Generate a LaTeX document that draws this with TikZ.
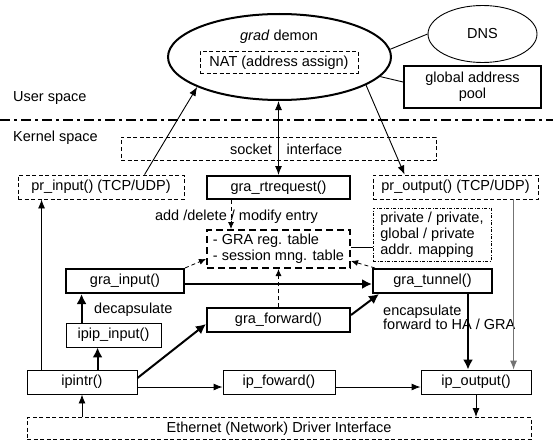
\documentclass[tikz,border=0pt]{standalone}
\usepackage{fontspec}
\setmainfont{Liberation Sans}
\usetikzlibrary{arrows.meta,shapes.geometric}
\tikzset{
  box/.style={draw, line width=0.9pt, inner sep=0pt, minimum height=24pt},
  thickbox/.style={box, line width=2pt},
  dashbox/.style={box, dash pattern=on 4pt off 2.5pt},
  tablebox/.style={box, line width=2pt, dash pattern=on 7pt off 4pt},
  dotbox/.style={box, dash pattern=on 3pt off 1.5pt on 1pt off 1.5pt},
  lbl/.style={inner sep=0pt},
  thin arrow/.style={line width=0.9pt, -{Latex[length=9pt,width=7pt]}},
  both arrow/.style={line width=0.9pt, {Latex[length=9pt,width=7pt]}-{Latex[length=9pt,width=7pt]}},
  thick arrow/.style={line width=2pt, -{Latex[length=10pt,width=10pt]}},
  dash arrow/.style={line width=0.8pt, dash pattern=on 4pt off 3pt, -{Latex[length=7pt,width=6pt]}},
}
\begin{document}
\begin{tikzpicture}[x=1pt, y=-1pt, font=\fontsize{14.5}{16}\selectfont]
\useasboundingbox (0,0) rectangle (553,441);
% user space
\node[ellipse, draw, line width=2pt, inner sep=0pt, minimum width=223pt, minimum height=86pt] (demon) at (279.5,57) {};
\node[lbl] (gradtxt) at (279,37) {\textit{grad} demon};
\node[dashbox, minimum width=158pt, minimum height=22pt] (nat) at (279,62.5) {NAT (address assign)};
\node[ellipse, draw, line width=0.9pt, inner sep=0pt, minimum width=109pt, minimum height=57pt] (dns) at (482.5,34) {DNS};
\node[thickbox, minimum width=137pt, minimum height=42pt, align=center] (glob) at (472.5,87) {global address\\pool};
\draw[line width=0.9pt] (demon.4) -- (dns.west);
\draw[line width=0.9pt] (demon.-11.5) -- ([yshift=5pt]glob.west);
\node[lbl, anchor=west] (user) at (13,98) {User space};
% border
\draw[line width=2pt, dash pattern=on 10pt off 4pt on 3pt off 4pt] (0,120) -- (553,120);
\node[lbl, anchor=west] (kernel) at (13,138) {Kernel space};
% kernel space
\node[dashbox, minimum width=315pt, minimum height=23pt] (sock) at (278.5,148.5) {};
\node[lbl] (socktxt) at (251,149) {socket};
\node[lbl] (ifacetxt) at (314.5,149) {interface};
\node[dashbox, minimum width=166pt] (prin) at (101,187) {pr\_input() (TCP/UDP)};
\node[thickbox, minimum width=143pt, minimum height=23pt] (rtreq) at (278.5,187.5) {gra\_rtrequest()};
\node[dashbox, minimum width=165pt] (prout) at (455.5,187) {pr\_output() (TCP/UDP)};
\node[lbl] (addtxt) at (236.5,217) {add /delete / modify entry};
\node[tablebox, minimum width=143pt, minimum height=38pt, align=left] (table) at (278.5,249) {- GRA reg. table\\- session mng. table};
\node[dotbox, minimum width=118pt, minimum height=53pt, align=left] (priv) at (432,234.5) {private / private,\\global / private\\addr. mapping};
\node[thickbox, minimum width=118pt] (gin) at (125,281) {gra\_input()};
\node[thickbox, minimum width=119pt] (gtun) at (432.5,281) {gra\_tunnel()};
\node[thickbox, minimum width=143pt] (gfwd) at (278.5,320) {gra\_forward()};
\node[lbl, anchor=west] (dectxt) at (94,310) {decapsulate};
\node[lbl, anchor=west, align=left] (enctxt) at (383,317) {encapsulate\\[-2pt]forward to HA / GRA};
\node[box, minimum width=95pt] (ipip) at (113.5,335) {ipip\_input()};
\node[box, minimum width=110pt] (ipintr) at (82,382) {ipintr()};
\node[box, minimum width=112pt] (ipfwd) at (279,382) {ip\_foward()};
\node[box, minimum width=110pt] (ipout) at (476,382) {ip\_output()};
\node[dashbox, minimum width=504pt, minimum height=22pt] (eth) at (279,428.5) {Ethernet (Network) Driver Interface};
% arrows to and from the demon
\draw[thin arrow] ([xshift=127pt]prin.north west) -- (demon.200);
\draw[both arrow] (demon.south -| rtreq.north) -- (rtreq.north);
\draw[thin arrow] (demon.-18) -- ([xshift=32pt]prout.north west);
% table access
\draw[dash arrow] ([xshift=25pt]rtreq.south west) -- ([xshift=25pt]rtreq.south west |- table.north);
\draw[line width=0.9pt] ([yshift=2pt]table.east) -- ([yshift=2pt]table.east -| priv.west);
\draw[dash arrow] (gin.north east) -- ([yshift=-10pt]table.west);
\draw[dash arrow] ([xshift=3pt]gtun.north west) -- ([yshift=-12pt]table.east);
\draw[dash arrow] (gfwd.north) -- (gfwd.north |- table.south);
% packet path
\draw[thick arrow] ([yshift=-3pt]gin.east) -- ([yshift=-3pt]gtun.west);
\draw[thick arrow] ([yshift=5pt]gfwd.east) -- ([xshift=7pt]gtun.south west);
\draw[thick arrow] ([xshift=16pt]ipip.north west) -- ([xshift=16pt]ipip.north west |- gin.south);
\draw[thick arrow] ([xshift=71pt]ipintr.north west) -- ([xshift=71pt]ipintr.north west |- ipip.south);
\draw[thin arrow] ([xshift=15pt]ipintr.north west) -- ([xshift=15pt]ipintr.north west |- prin.south);
\draw[thick arrow] ([yshift=4pt]ipintr.east) -- ([yshift=-4pt]gfwd.west);
\draw[thin arrow] ([yshift=-5pt]ipintr.east) -- ([yshift=-5pt]ipfwd.west);
\draw[thin arrow] ([yshift=-5pt]ipfwd.east) -- ([yshift=-5pt]ipout.west);
\draw[thick arrow] ([xshift=96pt]gtun.south west) -- ([xshift=96pt]gtun.south west |- ipout.north);
\draw[thin arrow, black!55] ([xshift=141pt]prout.south west) -- ([xshift=141pt]prout.south west |- ipout.north);
\draw[thin arrow] (eth.north -| ipintr.south) -- (ipintr.south);
\draw[thin arrow] (ipout.south) -- (ipout.south |- eth.north);
\end{tikzpicture}
\end{document}
